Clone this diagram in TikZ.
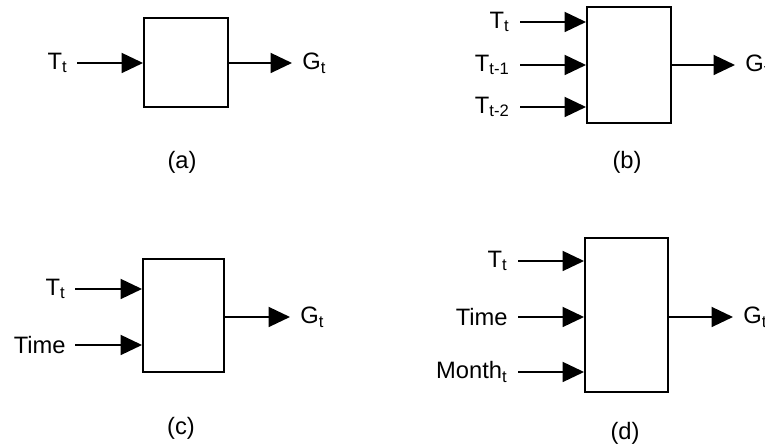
\documentclass[tikz,border=0pt]{standalone}
\usepackage{fontspec}
\setmainfont{Liberation Sans}
\usetikzlibrary{arrows.meta, positioning}
\tikzset{
  sysbox/.style = {
    rectangle, draw, line width=1.1pt,
    minimum width=#1, inner sep=0pt
  },
  sysbox/.default = 1.66cm,
  arr/.style = {-{Triangle[length=0.43cm, width=0.4cm]}, line width=1.1pt},
  lbl/.style = {font=\fontsize{13.5}{16}\selectfont, inner sep=0pt},
  caplbl/.style = {font=\fontsize{13.5}{16}\selectfont, inner sep=0pt},
}

\begin{document}
\begin{tikzpicture}[x=0.02cm, y=-0.02cm, node distance=0.2cm]
  \useasboundingbox (0,0) rectangle (765,448);

  % (a) one input
  \node[sysbox=1.68cm, minimum height=1.78cm] (boxa) at (186,62.5) {};
  \coordinate (ina) at (77,63);
  \coordinate (outa) at (292,63);
  \node[lbl, left=0.18cm of ina] (tta) {T\textsubscript{t}};
  \node[lbl, right=0.2cm of outa] (ga) {G\textsubscript{t}};
  \node[caplbl] (capa) at (182,162) {(a)};

  % (b) lagged inputs
  \node[sysbox=1.68cm, minimum height=2.32cm] (boxb) at (629,65) {};
  \coordinate (inb1) at (520,22);
  \coordinate (inb2) at (520,65);
  \coordinate (inb3) at (520,107);
  \coordinate (outb) at (735,65);
  \node[lbl, left=0.2cm of inb1] (tb1) {T\textsubscript{t}};
  \node[lbl, left=0.2cm of inb2] (tb2) {T\textsubscript{t-1}};
  \node[lbl, left=0.2cm of inb3] (tb3) {T\textsubscript{t-2}};
  \node[lbl, right=0.2cm of outb] (gb) {G\textsubscript{t}};
  \node[caplbl] (capb) at (627,162) {(b)};

  % (c) temperature + time
  \node[sysbox=1.62cm, minimum height=2.26cm] (boxc) at (183.5,315.5) {};
  \coordinate (inc1) at (75,289);
  \coordinate (inc2) at (75,345);
  \coordinate (outc) at (290,317);
  \node[lbl, left=0.18cm of inc1] (tc) {T\textsubscript{t}};
  \node[lbl, left=0.18cm of inc2] (timec) {Time};
  \node[lbl, right=0.2cm of outc] (gc) {G\textsubscript{t}};
  \node[caplbl] (capc) at (181,428) {(c)};

  % (d) temperature + time + month
  \node[sysbox=1.66cm, minimum height=3.08cm] (boxd) at (626.5,315) {};
  \coordinate (ind1) at (518,261);
  \coordinate (ind2) at (518,317);
  \coordinate (ind3) at (518,372);
  \coordinate (outd) at (733,317);
  \node[lbl, left=0.2cm of ind1] (td) {T\textsubscript{t}};
  \node[lbl, left=0.2cm of ind2] (timed) {Time};
  \node[lbl, left=0.2cm of ind3] (monthd) {Month\textsubscript{t}};
  \node[lbl, right=0.2cm of outd] (gd) {G\textsubscript{t}};
  \node[caplbl] (capd) at (625,433) {(d)};

  %% Arrows
  \draw[arr] (ina) -- (ina -| boxa.west);
  \draw[arr] (boxa.east |- outa) -- (outa);
  \foreach \i in {1,2,3}
    \draw[arr] (inb\i) -- (inb\i -| boxb.west);
  \draw[arr] (boxb.east |- outb) -- (outb);
  \foreach \i in {1,2}
    \draw[arr] (inc\i) -- (inc\i -| boxc.west);
  \draw[arr] (boxc.east |- outc) -- (outc);
  \foreach \i in {1,2,3}
    \draw[arr] (ind\i) -- (ind\i -| boxd.west);
  \draw[arr] (boxd.east |- outd) -- (outd);

\end{tikzpicture}
\end{document}
